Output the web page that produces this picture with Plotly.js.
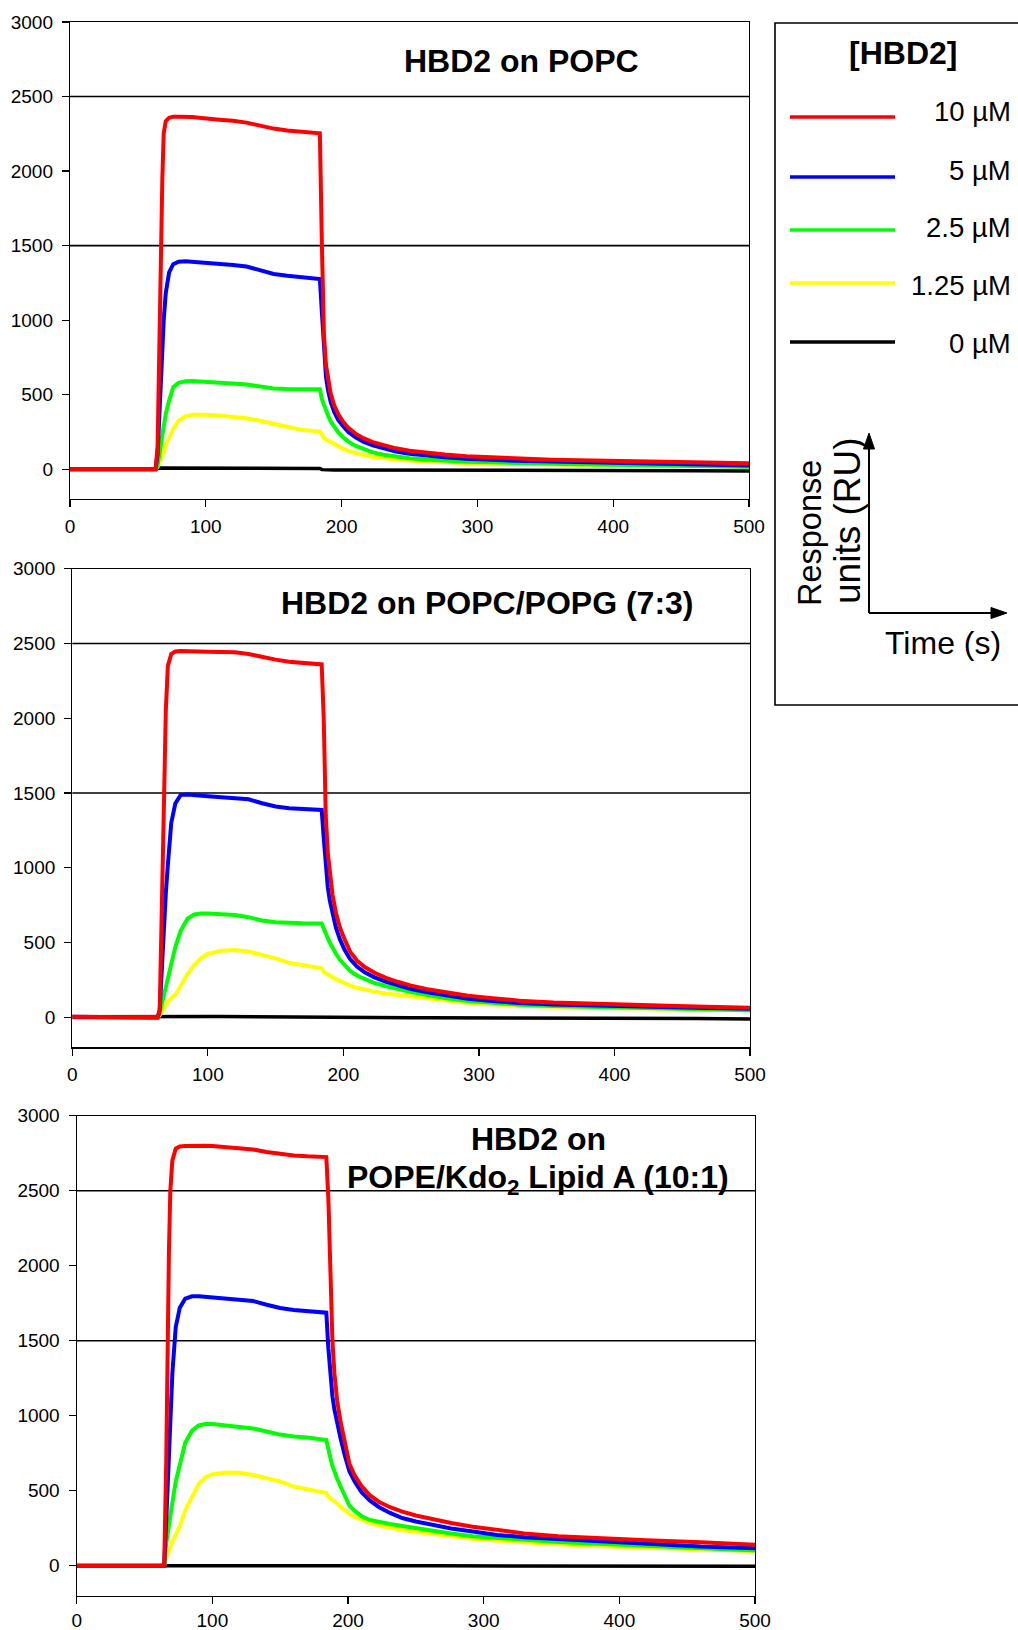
<!DOCTYPE html>
<html>
<head>
<meta charset="utf-8">
<script src="https://cdn.plot.ly/plotly-3.0.1.min.js"></script>
<style>html,body{margin:0;padding:0;background:#fff;}#chart{width:1018px;height:1630px;}</style>
</head>
<body>
<div id="chart"></div>
<script>
// ---- data ----
const time = [0, 63, 64.5, 66, 67, 68, 69, 70.5, 73, 76, 80, 85, 90, 95, 100, 110, 120, 130, 140, 150, 160, 170, 184,
  185.5, 187, 188.5, 190, 192, 194.5, 197.5, 201, 205, 210, 216, 223, 231, 240, 250, 262, 276, 292, 310, 330, 355, 385, 420, 460, 500];

const concLabels = ['10 µM', '5 µM', '2.5 µM', '1.25 µM', '0 µM'];
const panelTitles = ['HBD2 on POPC', 'HBD2 on POPC/POPG (7:3)', 'HBD2 on', 'POPE/Kdo<sub>2</sub> Lipid A (10:1)'];
const refLevels = [1500, 2500];
const legendTitle = '[HBD2]';
const axisNoteY = ['Response', 'units (RU)'];
const axisNoteX = 'Time (s)';

// HBD2 on POPC
const popc10 = [0, 0, 150, 1000, 1500, 1950, 2250, 2335, 2358, 2365, 2365, 2365, 2362, 2358, 2352, 2345, 2338, 2325, 2305, 2285, 2272, 2264, 2253,
  1500, 900, 700, 600, 505, 430, 370, 320, 278, 240, 208, 182, 160, 140, 124, 110, 98, 87, 79, 71, 64, 58, 53, 47, 40];
const popc5 = [0, 0, 100, 450, 650, 850, 1000, 1180, 1320, 1375, 1392, 1395, 1392, 1388, 1383, 1375, 1370, 1360, 1335, 1310, 1298, 1288, 1275,
  1050, 780, 620, 530, 450, 385, 330, 290, 250, 215, 185, 160, 138, 118, 103, 91, 80, 70, 62, 56, 51, 46, 40, 33, 25];
const popc2_5 = [0, 0, 25, 110, 170, 240, 300, 370, 460, 550, 580, 590, 592, 590, 587, 580, 575, 568, 555, 542, 538, 538, 537,
  470, 430, 390, 360, 320, 283, 248, 215, 185, 158, 135, 113, 97, 84, 74, 65, 57, 50, 46, 40, 36, 31, 27, 22, 16];
const popc1_25 = [0, 0, 15, 45, 65, 90, 115, 165, 215, 270, 325, 355, 365, 367, 366, 360, 352, 342, 325, 305, 282, 265, 252,
  225, 212, 200, 192, 180, 167, 152, 138, 123, 108, 95, 84, 74, 65, 58, 52, 47, 42, 38, 34, 31, 28, 24, 20, 16];
const popc0 = [0, 0, 5, 8, 8, 8, 8, 8, 8, 8, 8, 8, 8, 8, 8, 8, 7, 7, 6, 6, 5, 5, 5,
  -3, -4, -4, -4, -4, -5, -5, -5, -5, -5, -5, -5, -5, -5, -6, -6, -6, -6, -6, -7, -7, -8, -9, -10, -12];

// HBD2 on POPC/POPG (7:3)
const popg10 = [5, 0, 50, 600, 1100, 1600, 2050, 2350, 2430, 2446, 2450, 2450, 2450, 2448, 2445, 2443, 2442, 2430, 2410, 2392, 2378, 2370, 2360,
  2000, 1350, 1100, 960, 820, 700, 600, 520, 440, 380, 335, 298, 266, 238, 212, 188, 165, 145, 128, 112, 100, 90, 82, 73, 65];
const popg5 = [5, 0, 50, 350, 520, 680, 830, 1020, 1300, 1430, 1488, 1490, 1488, 1483, 1478, 1472, 1468, 1458, 1432, 1410, 1398, 1392, 1387,
  1200, 1000, 870, 780, 690, 600, 520, 450, 390, 340, 300, 268, 240, 213, 190, 168, 145, 125, 110, 96, 86, 78, 71, 64, 58];
const popg2_5 = [0, 0, 30, 90, 130, 160, 190, 240, 350, 470, 580, 660, 688, 695, 695, 690, 684, 670, 648, 636, 631, 629, 628,
  600, 565, 530, 500, 465, 425, 385, 345, 310, 280, 255, 230, 210, 190, 170, 150, 128, 110, 96, 85, 76, 69, 62, 55, 48];
const popg1_25 = [0, 0, 15, 40, 55, 70, 85, 105, 130, 150, 210, 290, 350, 395, 425, 445, 450, 440, 418, 395, 365, 348, 328,
  305, 295, 286, 278, 268, 256, 242, 228, 212, 198, 185, 172, 160, 150, 140, 128, 112, 98, 88, 78, 71, 65, 59, 53, 48];
const popg0 = [5, 2, 5, 6, 6, 6, 6, 6, 6, 6, 6, 6, 6, 6, 6, 6, 5, 5, 5, 4, 4, 3, 3,
  -1, -2, -2, -2, -2, -2, -2, -2, -2, -2, -2, -2, -2, -2, -3, -3, -3, -3, -3, -4, -4, -5, -6, -8, -10];

// HBD2 on POPE/Kdo2 Lipid A (10:1)
const lipa10 = [0, 0, 0, 700, 1500, 2100, 2500, 2700, 2780, 2795, 2798, 2800, 2800, 2800, 2798, 2792, 2786, 2775, 2758, 2745, 2735, 2729, 2724,
  2450, 1900, 1500, 1280, 1100, 960, 830, 680, 600, 530, 470, 425, 390, 360, 335, 310, 285, 260, 238, 215, 197, 183, 170, 156, 140];
const lipa5 = [0, 0, 0, 300, 550, 780, 1000, 1280, 1590, 1720, 1780, 1796, 1796, 1792, 1788, 1780, 1773, 1765, 1740, 1718, 1704, 1695, 1687,
  1450, 1270, 1130, 1040, 940, 850, 740, 630, 560, 490, 435, 390, 352, 318, 295, 272, 248, 228, 205, 190, 178, 160, 145, 128, 117];
const lipa2_5 = [0, 0, 0, 150, 220, 290, 350, 420, 560, 680, 820, 900, 935, 944, 944, 935, 925, 915, 895, 874, 862, 855, 838,
  790, 720, 665, 625, 580, 530, 470, 400, 365, 330, 305, 290, 278, 265, 250, 235, 215, 197, 185, 172, 158, 146, 133, 117, 101];
const lipa1_25 = [0, 0, 0, 50, 75, 100, 125, 160, 205, 265, 370, 460, 545, 590, 610, 622, 620, 605, 585, 562, 528, 510, 484,
  462, 450, 440, 430, 415, 397, 372, 345, 325, 305, 285, 268, 253, 238, 226, 213, 198, 180, 168, 155, 143, 132, 122, 110, 98];
const lipa0 = [0, 0, 0, 5, 5, 5, 5, 5, 5, 5, 5, 5, 5, 5, 5, 5, 5, 5, 5, 5, 5, 5, 5,
  0, 0, 0, 0, 0, 0, 0, 0, 0, 0, 0, 0, 0, 0, 0, -1, -1, -1, -1, -1, -2, -2, -2, -3, -3];

// ---- styling ----
const colors = ['#ff0000', '#0000ff', '#00ff00', '#ffff00', '#000000'];
const FONT = 'Liberation Sans, Arial, Helvetica, sans-serif';
const W = 1018, H = 1630;
const X = px => px / W;
const Y = py => 1 - py / H;

const panels = [
  {series: [popc10, popc5, popc2_5, popc1_25, popc0], xa: 'x', ya: 'y', px: [70, 749], py: [22, 499], xstand: 3},
  {series: [popg10, popg5, popg2_5, popg1_25, popg0], xa: 'x2', ya: 'y2', px: [72.3, 750], py: [568.7, 1047.3], xstand: 3},
  {series: [lipa10, lipa5, lipa2_5, lipa1_25, lipa0], xa: 'x3', ya: 'y3', px: [76.7, 755], py: [1115.7, 1595.7], xstand: 0}
];

const traces = [];
panels.forEach(p => {
  for (let i = p.series.length - 1; i >= 0; i--) {
    traces.push({
      type: 'scatter', mode: 'lines', x: time, y: p.series[i],
      xaxis: p.xa, yaxis: p.ya, name: concLabels[i], showlegend: false,
      line: {color: colors[i], width: i === 4 ? 3.5 : 4}
    });
  }
});

function xAxis(p) {
  return {
    domain: [X(p.px[0]), X(p.px[1])], anchor: p.ya, range: [0, 500], tick0: 0, dtick: 100,
    showline: true, mirror: true, linecolor: '#000', linewidth: 1.2,
    ticks: 'outside', ticklen: 7, tickwidth: 1.2, tickcolor: '#000', ticklabelstandoff: p.xstand,
    showgrid: false, zeroline: false, fixedrange: true,
    tickfont: {family: FONT, size: 19, color: '#000'}
  };
}
function yAxis(p) {
  return {
    domain: [Y(p.py[1]), Y(p.py[0])], anchor: p.xa, range: [-200, 3000], tick0: 0, dtick: 500,
    showline: true, mirror: true, linecolor: '#000', linewidth: 1.2,
    ticks: 'outside', ticklen: 7, tickwidth: 1.2, tickcolor: '#000', ticklabelstandoff: 5,
    showgrid: false, zeroline: false, fixedrange: true,
    tickfont: {family: FONT, size: 19, color: '#000'}
  };
}

const layout = {
  width: W, height: H, margin: {l: 0, r: 0, t: 0, b: 0},
  paper_bgcolor: '#fff', plot_bgcolor: 'rgba(0,0,0,0)', showlegend: false,
  font: {family: FONT, color: '#000'},
  shapes: [], annotations: []
};
panels.forEach((p, k) => {
  const sfx = k === 0 ? '' : String(k + 1);
  layout['xaxis' + sfx] = xAxis(p);
  layout['yaxis' + sfx] = yAxis(p);
  refLevels.forEach(v => {
    layout.shapes.push({type: 'line', layer: 'below', xref: p.xa + ' domain', yref: p.ya,
      x0: 0, x1: 1, y0: v, y1: v, line: {color: '#000', width: 1.6}});
  });
});

// panel titles
const titleFont = {family: FONT, size: 32, color: '#000'};
const titlePos = [[521, 60.5], [487.7, 602.5], [538, 1139], [538, 1179.5]];
panelTitles.forEach((t, i) => {
  layout.annotations.push({xref: 'paper', yref: 'paper', x: X(titlePos[i][0]), y: Y(titlePos[i][1]),
    xanchor: 'center', yanchor: 'middle', showarrow: false, text: '<b>' + t + '</b>', font: titleFont});
});

// legend box
layout.shapes.push({type: 'rect', xref: 'paper', yref: 'paper', x0: X(775), x1: X(1030), y0: Y(705), y1: Y(23),
  line: {color: '#000', width: 1.6}, fillcolor: 'rgba(0,0,0,0)'});
layout.annotations.push({xref: 'paper', yref: 'paper', x: X(903), y: Y(53), xanchor: 'center', yanchor: 'middle',
  showarrow: false, text: '<b>' + legendTitle + '</b>', font: {family: FONT, size: 32, color: '#000'}});
const legY = [117, 177, 230, 283, 342];
const legTxtY = [111.5, 170.5, 227.7, 285, 343];
concLabels.forEach((lab, i) => {
  layout.shapes.push({type: 'line', xref: 'paper', yref: 'paper', x0: X(790), x1: X(895), y0: Y(legY[i]), y1: Y(legY[i]),
    line: {color: colors[i], width: 3.5}});
  layout.annotations.push({xref: 'paper', yref: 'paper', x: X(1013), y: Y(legTxtY[i]), xanchor: 'right', yanchor: 'middle',
    showarrow: false, text: lab, font: {family: FONT, size: 27.5, color: '#000'}});
});

// axis-key arrows (lines + triangular heads)
layout.shapes.push({type: 'line', xref: 'paper', yref: 'paper', x0: X(869), x1: X(869), y0: Y(613), y1: Y(446),
  line: {color: '#000', width: 2}});
layout.shapes.push({type: 'line', xref: 'paper', yref: 'paper', x0: X(869), x1: X(994), y0: Y(613), y1: Y(613),
  line: {color: '#000', width: 2}});
layout.shapes.push({type: 'path', xref: 'paper', yref: 'paper',
  path: `M ${X(869)} ${Y(433)} L ${X(863.5)} ${Y(449)} L ${X(874.5)} ${Y(449)} Z`,
  fillcolor: '#000', line: {color: '#000', width: 1}});
layout.shapes.push({type: 'path', xref: 'paper', yref: 'paper',
  path: `M ${X(1007)} ${Y(613)} L ${X(991)} ${Y(607.5)} L ${X(991)} ${Y(618.5)} Z`,
  fillcolor: '#000', line: {color: '#000', width: 1}});
layout.annotations.push({xref: 'paper', yref: 'paper', x: X(810), y: Y(533), xanchor: 'center', yanchor: 'middle',
  textangle: -90, showarrow: false, text: axisNoteY[0], font: {family: FONT, size: 32.5, color: '#000'}});
layout.annotations.push({xref: 'paper', yref: 'paper', x: X(848), y: Y(521), xanchor: 'center', yanchor: 'middle',
  textangle: -90, showarrow: false, text: axisNoteY[1], font: {family: FONT, size: 37, color: '#000'}});
layout.annotations.push({xref: 'paper', yref: 'paper', x: X(943), y: Y(643), xanchor: 'center', yanchor: 'middle',
  showarrow: false, text: axisNoteX, font: {family: FONT, size: 32, color: '#000'}});

Plotly.newPlot('chart', traces, layout, {staticPlot: true, displayModeBar: false});
</script>
</body>
</html>
